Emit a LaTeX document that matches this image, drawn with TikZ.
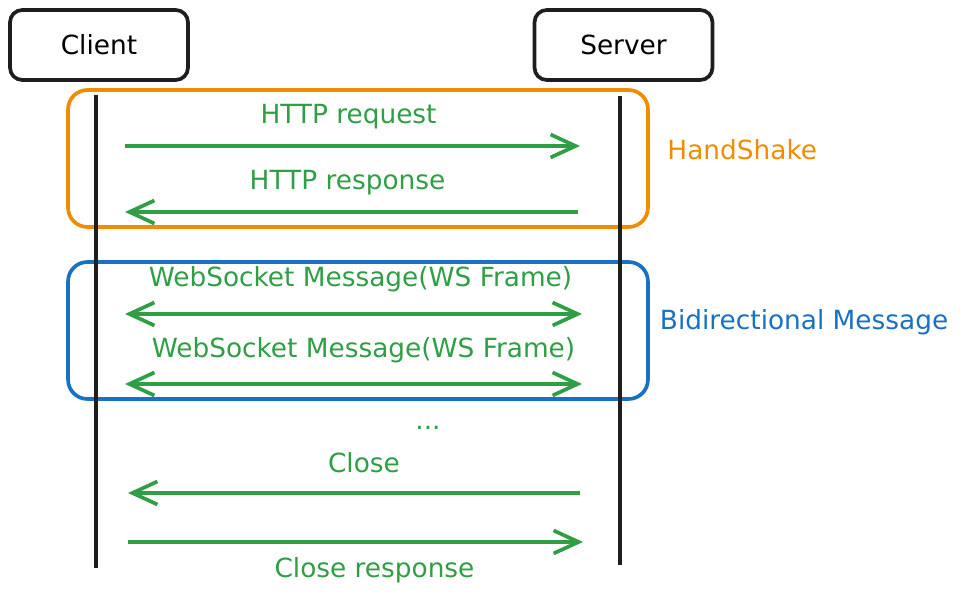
\documentclass[tikz,border=0pt]{standalone}
\usepackage{fontspec}
\setmainfont{DejaVu Sans}
\usepackage{xcolor}
\usetikzlibrary{arrows.meta,positioning}
\definecolor{wsgreen}{HTML}{2F9E44}
\definecolor{wsorange}{HTML}{F08C00}
\definecolor{wsblue}{HTML}{1971C2}
\definecolor{wsblack}{HTML}{1E1E1E}

\begin{document}
\begin{tikzpicture}[x=0.02cm,y=-0.02cm,line width=2.1pt,font=\fontsize{15}{18}\selectfont,
    actor/.style={draw=wsblack,rounded corners=7pt,minimum width=3.56cm,minimum height=1.4cm},
    group/.style={draw=#1,rounded corners=11pt,minimum width=11.6cm,minimum height=2.74cm},
    lifeline/.style={draw=wsblack},
    msg/.style={wsgreen,-{Straight Barb[length=0.5cm,width=0.46cm]}},
    duplex/.style={wsgreen,{Straight Barb[length=0.5cm,width=0.46cm]}-{Straight Barb[length=0.5cm,width=0.46cm]}},
    lbl/.style={text=wsgreen,anchor=base,yshift=#1},
    lbl/.default=0.44cm]
  \useasboundingbox (0,0) rectangle (965,597);

  \node[actor]            (client) at (99,45)    {Client};
  \node[actor]            (server) at (623.5,45) {Server};
  \node[group=wsorange]   (shake)  at (358,158.5) {};
  \node[group=wsblue]     (bidi)   at (358,330.5) {};
  \node[text=wsorange,right=0.2cm of shake,yshift=0.17cm] (shakename) {HandShake};
  \node[text=wsblue,right=0.05cm of bidi,yshift=0.17cm]   (bidiname)  {Bidirectional Message};
  \node[text=wsgreen]     (more)   at (428,428)  {...};

  % lifelines
  \coordinate (ctop) at (96,95);  \coordinate (cbot) at (96,568);
  \coordinate (stop) at (620,96); \coordinate (sbot) at (620,565);

  % message ends
  \coordinate (c1) at (125,146); \coordinate (s1) at (580,146);
  \coordinate (c2) at (125,212); \coordinate (s2) at (578,212);
  \coordinate (c3) at (125,314); \coordinate (s3) at (582,314);
  \coordinate (c4) at (125,384); \coordinate (s4) at (582,384);
  \coordinate (c5) at (128,493); \coordinate (s5) at (580,493);
  \coordinate (c6) at (128,542); \coordinate (s6) at (583,542);

  \path (ctop) edge [lifeline] (cbot)
        (stop) edge [lifeline] (sbot);

  \path (c1) edge [msg]    node [lbl,xshift=-0.08cm]        {HTTP request} (s1)
        (s2) edge [msg]    node [lbl,xshift=-0.08cm]        {HTTP response} (c2)
        (c3) edge [duplex] node [lbl=0.54cm,xshift=0.14cm]  {WebSocket Message(WS Frame)} (s3)
        (c4) edge [duplex] node [lbl=0.52cm,xshift=0.2cm]   {WebSocket Message(WS Frame)} (s4)
        (s5) edge [msg]    node [lbl=0.4cm,xshift=0.2cm]    {Close} (c5)
        (c6) edge [msg]    node [lbl=-0.72cm,xshift=0.38cm] {Close response} (s6);
\end{tikzpicture}
\end{document}
